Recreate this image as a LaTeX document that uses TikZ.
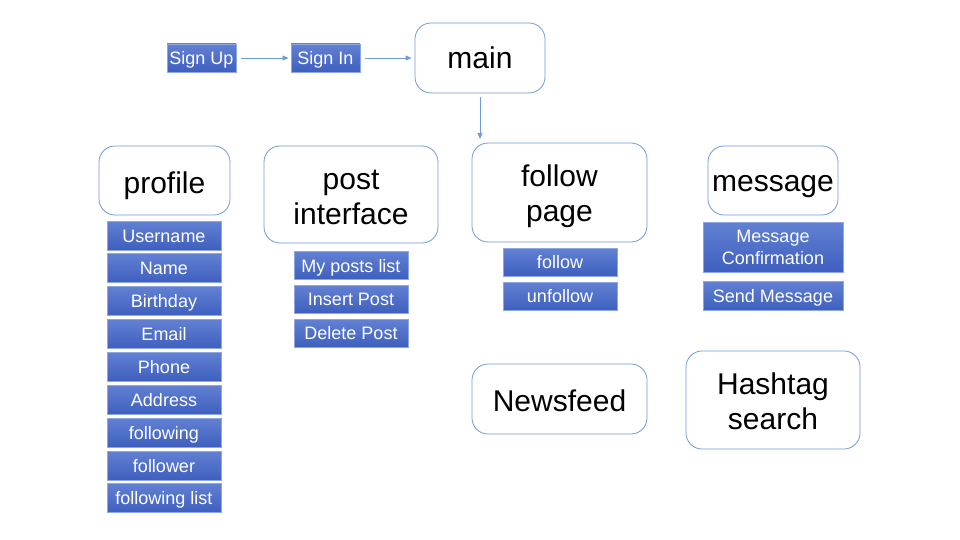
\documentclass[tikz,border=0pt]{standalone}
\usepackage{fontspec}
\setmainfont{Liberation Sans}
\usetikzlibrary{arrows.meta}
\definecolor{edgeblue}{HTML}{6F9BD6}
\definecolor{boxtop}{HTML}{6281D3}
\definecolor{boxbot}{HTML}{3E5FBE}
\definecolor{boxline}{HTML}{8EA7E3}
\tikzset{
  bigbox/.style={draw=edgeblue, line width=0.8pt, rounded corners=16pt, fill=white, align=center, font=\fontsize{30}{35}\selectfont, inner sep=0pt},
  bluebox/.style={draw=boxline, line width=0.8pt, top color=boxtop, bottom color=boxbot, text=white, align=center, font=\fontsize{18}{22}\selectfont, inner sep=0pt},
  oneline/.style={text height=15pt, text depth=2pt},
  conn/.style={draw=edgeblue, line width=0.8pt, -{Triangle[length=6pt,width=5pt]}}
}
\begin{document}
\begin{tikzpicture}[x=1pt,y=-1pt]
\useasboundingbox (0,0) rectangle (960,540);
% top row
\node[bluebox, oneline, minimum width=69pt, minimum height=28pt] (signup) at (201.5,58) {Sign Up};
\node[bluebox, oneline, minimum width=69pt, minimum height=28pt] (signin) at (325.5,58) {Sign In};
\node[bigbox, text height=22pt, text depth=0pt, minimum width=130pt, minimum height=70pt] (main) at (480,58) {main};
% big boxes
\node[bigbox, text height=26pt, text depth=0pt, minimum width=131pt, minimum height=69pt] (profile) at (164.5,180.5) {profile};
\node[bigbox, minimum width=174pt, minimum height=97pt] (post) at (351,194.5) {\rule{0pt}{25pt}post\\interface};
\node[bigbox, minimum width=175pt, minimum height=99pt] (follow) at (559.5,192.5) {\rule{0pt}{30pt}follow\\page};
\node[bigbox, text height=22pt, text depth=0pt, minimum width=130pt, minimum height=69pt] (message) at (773,180.5) {message};
\node[bigbox, text height=25pt, text depth=0pt, minimum width=175pt, minimum height=70pt] (news) at (559.5,399) {Newsfeed};
\node[bigbox, minimum width=174pt, minimum height=98pt] (hashtag) at (773,400) {\rule{0pt}{24pt}Hashtag\\search};
% profile column
\foreach \n/\t/\y in {p1/Username/235.5, p2/Name/268, p3/Birthday/301, p4/Email/334, p5/Phone/366.5, p6/Address/399.5, p7/following/432.5, p8/follower/465.5, p9/following list/498}
  \node[bluebox, oneline, minimum width=114pt, minimum height=29pt] (\n) at (164,\y) {\t};
% post column
\foreach \n/\t/\y in {q1/My posts list/265.5, q2/Insert Post/299, q3/Delete Post/333}
  \node[bluebox, oneline, minimum width=114pt, minimum height=28pt] (\n) at (351,\y) {\t};
% follow column
\node[bluebox, oneline, minimum width=114pt, minimum height=28pt] (f1) at (560,262) {follow};
\node[bluebox, oneline, minimum width=114pt, minimum height=28pt] (f2) at (560,296) {unfollow};
% message column
\node[bluebox, minimum width=140pt, minimum height=50pt] (m1) at (773,247) {Message\\Confirmation};
\node[bluebox, oneline, minimum width=140pt, minimum height=29pt] (m2) at (773,295.5) {Send Message};
% connectors
\draw[conn] ([xshift=5pt]signup.east) -- ([xshift=-2pt]signin.west);
\draw[conn] ([xshift=5pt]signin.east) -- ([xshift=-3pt]main.west);
\coordinate (down) at (480,139);
\draw[conn] ([yshift=-4pt]main.south) -- (down);
\end{tikzpicture}
\end{document}
